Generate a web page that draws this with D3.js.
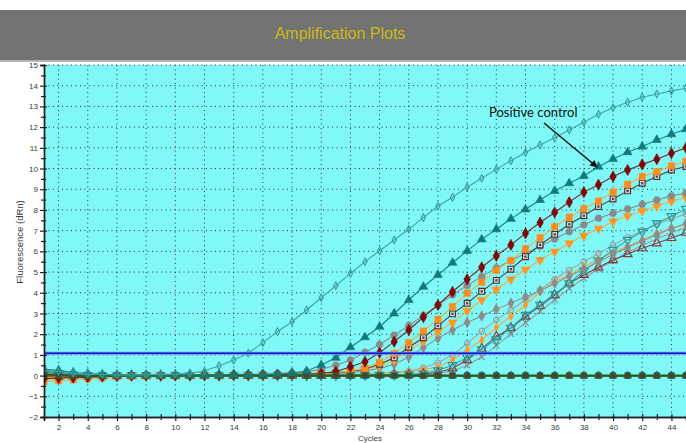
<!DOCTYPE html>
<html>
<head>
<meta charset="utf-8">
<script src="https://cdn.jsdelivr.net/npm/d3@7"></script>
<style>
  body { margin: 0; background: #ffffff; }
  svg { display: block; }
</style>
</head>
<body>
<div id="chart"></div>
<script>
// Chart values
const cycles = [1,2,3,4,5,6,7,8,9,10,11,12,13,14,15,16,17,18,19,20,21,22,23,24,25,26,27,28,29,30,31,32,33,34,35,36,37,38,39,40,41,42,43,44,45];
const yTicks = [-2,-1,0,1,2,3,4,5,6,7,8,9,10,11,12,13,14,15];
const xTicks = [2,4,6,8,10,12,14,16,18,20,22,24,26,28,30,32,34,36,38,40,42,44];
const threshold = 1.08;

const earlyTeal = [0.25,0.2,0.12,0.08,0.05,0.03,0.03,0.04,0.06,0.08,0.12,0.22,0.48,0.75,1.08,1.59,2.12,2.6,3.17,3.76,4.34,4.94,5.5,6.03,6.55,7.07,7.63,8.19,8.61,9.1,9.53,9.96,10.38,10.77,11.14,11.49,11.86,12.23,12.62,12.94,13.2,13.44,13.6,13.75,13.88];
const positiveControl = [0.3,0.25,0.15,0.1,0.06,0.04,0.03,0.03,0.03,0.03,0.03,0.03,0.03,0.04,0.04,0.05,0.07,0.12,0.22,0.51,0.86,1.37,1.85,2.36,3.0,3.65,4.29,4.86,5.45,6.02,6.58,7.07,7.57,8.03,8.48,8.92,9.29,9.64,10.09,10.46,10.79,11.06,11.38,11.66,11.9];
const redDiamonds = [-0.15,-0.12,-0.1,-0.08,-0.05,-0.03,0,0,0,0.01,0.01,0.02,0.02,0.03,0.03,0.04,0.05,0.07,0.08,0.1,0.19,0.43,0.67,1.11,1.64,2.2,2.82,3.41,4.05,4.65,5.23,5.78,6.31,6.87,7.39,7.88,8.38,8.86,9.22,9.61,9.93,10.2,10.45,10.74,11.0];
const orangeSquares = [-0.3,-0.25,-0.2,-0.15,-0.1,-0.06,-0.04,-0.03,-0.02,-0.02,-0.01,-0.01,0,0,0,0.01,0.02,0.03,0.05,0.08,0.15,0.22,0.35,0.64,1.08,1.59,2.15,2.72,3.33,3.98,4.51,5.08,5.56,6.12,6.66,7.19,7.65,8.05,8.43,8.86,9.24,9.61,9.85,10.13,10.35];
const openSquares = [0.05,0.03,0,-0.02,-0.02,-0.02,0,0,0,0,0,0,0.01,0.01,0.02,0.02,0.03,0.04,0.06,0.09,0.13,0.2,0.32,0.55,0.86,1.37,1.83,2.4,2.98,3.49,4.07,4.6,5.14,5.74,6.31,6.82,7.31,7.72,8.16,8.53,8.92,9.29,9.61,9.93,10.1];
const grayCircles = [0.1,0.08,0.05,0.03,0.02,0.02,0.02,0.02,0.02,0.02,0.03,0.03,0.04,0.05,0.06,0.08,0.1,0.13,0.18,0.3,0.5,0.75,1.13,1.5,1.95,2.42,2.9,3.4,3.9,4.35,4.78,5.2,5.55,5.9,6.25,6.6,6.95,7.28,7.6,7.84,8.05,8.27,8.48,8.68,8.82];
const orangeTriangles = [-0.2,-0.15,-0.12,-0.08,-0.05,-0.03,-0.02,-0.02,-0.01,-0.01,0,0,0,0,0.01,0.01,0.02,0.03,0.05,0.08,0.12,0.2,0.3,0.45,0.75,1.2,1.65,2.12,2.56,3.12,3.65,4.15,4.65,5.12,5.58,5.98,6.39,6.76,7.1,7.44,7.71,7.95,8.18,8.42,8.6];
const grayDiamonds = [0,-0.02,-0.03,-0.03,-0.02,-0.02,-0.01,-0.01,0,0,0,0,0,0,0.01,0.01,0.02,0.03,0.04,0.06,0.1,0.15,0.22,0.35,0.55,0.9,1.35,1.8,2.2,2.56,2.88,3.2,3.5,3.81,4.1,4.45,4.8,5.15,5.5,5.85,6.2,6.5,6.8,7.1,7.35];
const tealOpenTriangles = [0.15,0.1,0.05,0.02,0,0,0,0,0,0,0,0,0,0,0,0,0,0,0,0.01,0.01,0.01,0.02,0.03,0.04,0.06,0.1,0.25,0.51,0.88,1.27,1.75,2.31,2.93,3.41,3.94,4.46,5.07,5.55,6.07,6.55,6.95,7.36,7.7,8.05];
const brownTriangles = [-0.05,-0.05,-0.04,-0.03,-0.02,-0.01,0,0,0,0,0,0,0,0,0,0,0,0,0,0,0.01,0.01,0.02,0.03,0.04,0.05,0.08,0.15,0.35,0.75,1.3,1.88,2.3,2.85,3.36,3.89,4.46,4.86,5.23,5.58,5.87,6.15,6.39,6.65,6.9];
const orangeSmall = [-0.1,-0.08,-0.05,-0.03,-0.02,-0.01,0,0,0,0,0,0,0,0,0,0,0,0.01,0.01,0.02,0.03,0.04,0.06,0.09,0.13,0.18,0.28,0.42,0.75,1.24,1.72,2.33,2.85,3.41,4.05,4.54,4.86,5.26,5.62,5.95,6.25,6.55,6.87,7.11,7.3];
const grayOpenCircles = [0.1,0.06,0.04,0.02,0.01,0,0,0,0,0,0,0,0,0,0,0,0,0.01,0.01,0.02,0.03,0.05,0.07,0.1,0.15,0.22,0.38,0.62,1.0,1.55,2.15,2.69,3.17,3.65,4.15,4.65,5.1,5.5,5.9,6.3,6.68,7.0,7.3,7.58,7.8];
const grayCrosses = [0.05,0.03,0.02,0.01,0,0,0,0,0,0,0,0,0,0,0,0,0,0,0,0,0,0,0.01,0.01,0.02,0.03,0.05,0.1,0.22,0.5,0.9,1.45,2.0,2.55,3.1,3.65,4.2,4.7,5.15,5.55,5.95,6.3,6.6,6.9,7.15];
const negativeA = [0.05,0.02,0,-0.01,-0.01,0,0,0,0,0,0,0,0,0,0,0,0,0,0,0,0,0,0,0,0,0,0,0,0,0,0,0,0,0,0,0,0,0,0,0,0,0,0,0,0];
const negativeB = [-0.1,-0.08,-0.05,-0.03,-0.02,-0.01,0,0,0,0,0,0,0,0,0,0,0,0,0,0,0,0,0,0,0,0,0,0,0,0,0,0,0,0,0,0,0,0,0,0,0,0,0,0,0];
const negativeC = [0.2,0.15,0.1,0.05,0.02,0.01,0,0,0,0,0,0,0,0,0,0,0,0,0,0,0,0,0,0,0,0,0,0,0,0,0,0,0,0,0,0,0,0,0,0,0,0,0,0,0];

// Series styling (drawing order = list order)
const seriesList = [
    { values: negativeC, line: "#6b3a2a", fill: "#7a4a3a", stroke: "#5a3020", shape: "hex", size: 30 },
    { values: negativeB, line: "#8a5a2a", fill: "#8a6a4a", stroke: "#6a4a2a", shape: "triangle", size: 28 },
    { values: grayCrosses, line: "#9a9a9a", fill: "none", stroke: "#8a8a8a", shape: "x", size: 26 },
    { values: grayOpenCircles, line: "#a4a4a4", fill: "none", stroke: "#9a9a9a", shape: "circle", size: 24 },
    { values: orangeSmall, line: "#f4a640", fill: "#ff9a2a", stroke: "#ff9a2a", shape: "diamond", size: 20 },
    { values: brownTriangles, line: "#7a4545", fill: "none", stroke: "#8a3a3a", shape: "triangle", size: 34 },
    { values: tealOpenTriangles, line: "#3aa2a2", fill: "none", stroke: "#2a9898", shape: "triangleDown", size: 34 },
    { values: grayDiamonds, line: "#909090", fill: "#8c8c8c", stroke: "#8c8c8c", shape: "diamond", size: 32 },
    { values: orangeTriangles, line: "#eeb050", fill: "#ff9620", stroke: "#ff9620", shape: "triangleDown", size: 34 },
    { values: grayCircles, line: "#8e8e8e", fill: "#8a8a8a", stroke: "#8a8a8a", shape: "hex", size: 36 },
    { values: openSquares, line: "#4e3c3c", fill: "#cfcfcf", stroke: "#4a3232", shape: "squareOpen", size: 34 },
    { values: orangeSquares, line: "#f0b048", fill: "#ff8c1a", stroke: "#ff8c1a", shape: "square", size: 40 },
    { values: redDiamonds, line: "#6e2a2a", fill: "#7b0a0a", stroke: "#7b0a0a", shape: "diamond", size: 36 },
    { values: negativeA, line: "#1e5e1e", fill: "#3e463e", stroke: "#2a7a2a", shape: "square", size: 34, width: 2.2 },
    { values: positiveControl, line: "#1a8484", fill: "#137a7a", stroke: "#137a7a", shape: "triangle", size: 34 },
    { values: earlyTeal, line: "#3ea6a6", fill: "none", stroke: "#3a9c9c", shape: "diamond", size: 16 }
];

const width = 686;
const height = 443;
const plot = { left: 44, right: 686, top: 65, bottom: 417 };

const svg = d3.select("#chart").append("svg")
    .attr("width", width)
    .attr("height", height)
    .style("font-family", "'Liberation Sans', Arial, sans-serif");

// Title bar
svg.append("rect")
    .attr("x", 0).attr("y", 10)
    .attr("width", width).attr("height", 50)
    .attr("fill", "#737373");
svg.append("rect")
    .attr("x", 0).attr("y", 60)
    .attr("width", width).attr("height", 2)
    .attr("fill", "#b4b4b4");
svg.append("text")
    .attr("x", 340).attr("y", 39)
    .attr("text-anchor", "middle")
    .attr("font-size", "16px")
    .attr("fill", "#cdb915")
    .text("Amplification Plots");

// Scales
const xScale = d3.scaleLinear().domain([1, 45]).range([plot.left, plot.right]);
const yScale = d3.scaleLinear().domain([-2, 15]).range([plot.bottom, plot.top]);

// Plot background
svg.append("rect")
    .attr("x", plot.left).attr("y", plot.top)
    .attr("width", plot.right - plot.left).attr("height", plot.bottom - plot.top)
    .attr("fill", "#80f8f8");

svg.append("clipPath").attr("id", "plotClip")
    .append("rect")
    .attr("x", plot.left).attr("y", plot.top - 4)
    .attr("width", plot.right - plot.left).attr("height", plot.bottom - plot.top + 4);

// Dotted grid
const grid = svg.append("g");
grid.selectAll("line.h")
    .data(yTicks.filter(d => d > -2))
    .enter().append("line")
    .attr("x1", plot.left).attr("x2", plot.right)
    .attr("y1", d => yScale(d)).attr("y2", d => yScale(d))
    .attr("stroke", "#303030")
    .attr("stroke-width", 1)
    .attr("stroke-dasharray", "1,3.5");
grid.selectAll("line.v")
    .data(xTicks)
    .enter().append("line")
    .attr("x1", d => xScale(d)).attr("x2", d => xScale(d))
    .attr("y1", plot.top).attr("y2", plot.bottom)
    .attr("stroke", "#303030")
    .attr("stroke-width", 1)
    .attr("stroke-dasharray", "1,3.5");

// Series lines and markers
const lineGen = d3.line()
    .x((d, i) => xScale(cycles[i]))
    .y(d => yScale(d));

function markerPath(shape, size) {
    if (shape === "triangle" || shape === "triangleDown") return d3.symbol(d3.symbolTriangle, size)();
    if (shape === "diamond") return d3.symbol(d3.symbolDiamond, size)();
    if (shape === "square" || shape === "squareOpen") return d3.symbol(d3.symbolSquare, size)();
    if (shape === "circle") return d3.symbol(d3.symbolCircle, size)();
    if (shape === "x") return d3.symbol(d3.symbolX, size)();
    // hexagon
    const r = Math.sqrt(size / 2.6);
    const pts = d3.range(6).map(k => [r * Math.cos(Math.PI / 3 * k), r * Math.sin(Math.PI / 3 * k)]);
    return "M" + pts.map(p => p.join(",")).join("L") + "Z";
}

const seriesGroup = svg.append("g").attr("clip-path", "url(#plotClip)");

seriesList.forEach(s => {
    const g = seriesGroup.append("g");
    g.append("path")
        .attr("d", lineGen(s.values))
        .attr("fill", "none")
        .attr("stroke", s.line)
        .attr("stroke-width", s.width || 1.1);

    const path = markerPath(s.shape, s.size);
    g.selectAll("path.m")
        .data(s.values)
        .enter().append("path")
        .attr("class", "m")
        .attr("d", path)
        .attr("transform", (d, i) => `translate(${xScale(cycles[i])},${yScale(d)})` + (s.shape === "triangleDown" ? " rotate(180)" : ""))
        .attr("fill", s.fill)
        .attr("stroke", s.stroke)
        .attr("stroke-width", s.fill === "none" || s.shape === "squareOpen" ? 1.1 : 0.6);

    if (s.shape === "squareOpen") {
        g.selectAll("rect.dot")
            .data(s.values)
            .enter().append("rect")
            .attr("x", (d, i) => xScale(cycles[i]) - 1.1)
            .attr("y", d => yScale(d) - 1.1)
            .attr("width", 2.2).attr("height", 2.2)
            .attr("fill", "#5a4040");
    }
});

// Threshold line
svg.append("line")
    .attr("x1", plot.left).attr("x2", plot.right)
    .attr("y1", yScale(threshold)).attr("y2", yScale(threshold))
    .attr("stroke", "#6a8cff")
    .attr("stroke-width", 3.2);
svg.append("line")
    .attr("x1", plot.left).attr("x2", plot.right)
    .attr("y1", yScale(threshold)).attr("y2", yScale(threshold))
    .attr("stroke", "#1818c8")
    .attr("stroke-width", 1.6);

// Axes
const yAxis = d3.axisLeft(yScale)
    .tickValues(yTicks)
    .tickSize(4)
    .tickPadding(2)
    .tickFormat(d3.format("d"));
const yAxisG = svg.append("g")
    .attr("transform", `translate(${plot.left},0)`)
    .call(yAxis);

const yMinor = d3.axisLeft(yScale)
    .tickValues(yTicks.slice(0, -1).map(d => d + 0.5))
    .tickSize(3)
    .tickFormat("");
const yMinorG = svg.append("g")
    .attr("transform", `translate(${plot.left},0)`)
    .call(yMinor);

const xAxis = d3.axisBottom(xScale)
    .tickValues(xTicks)
    .tickSize(4)
    .tickPadding(3)
    .tickFormat(d3.format("d"));
const xAxisG = svg.append("g")
    .attr("transform", `translate(0,${plot.bottom})`)
    .call(xAxis);

const xMinor = d3.axisBottom(xScale)
    .tickValues(cycles.filter(d => d % 2 === 1))
    .tickSize(3)
    .tickFormat("");
const xMinorG = svg.append("g")
    .attr("transform", `translate(0,${plot.bottom})`)
    .call(xMinor);

[yAxisG, yMinorG, xAxisG, xMinorG].forEach(g => {
    g.select(".domain").attr("stroke", "#202020").attr("stroke-width", 1.4);
    g.selectAll(".tick line").attr("stroke", "#202020").attr("stroke-width", 1.2);
    g.selectAll("text")
        .attr("font-size", "8px")
        .attr("font-family", "'Liberation Sans', Arial, sans-serif")
        .attr("fill", "#3a3a3a");
});
// ticks cross the axis line
yAxisG.selectAll(".tick line").attr("x2", -4).attr("x1", 3);
yMinorG.selectAll(".tick line").attr("x2", -3).attr("x1", 2);
xAxisG.selectAll(".tick line").attr("y1", -3).attr("y2", 4);
xMinorG.selectAll(".tick line").attr("y1", -3).attr("y2", 3);

// Axis titles
svg.append("text")
    .attr("transform", "translate(23,242) rotate(-90)")
    .attr("text-anchor", "middle")
    .attr("font-size", "9.5px")
    .attr("fill", "#3a3a3a")
    .text("Fluorescence (dRn)");
svg.append("text")
    .attr("x", 370).attr("y", 441)
    .attr("text-anchor", "middle")
    .attr("font-size", "8px")
    .attr("fill", "#3a3a3a")
    .text("Cycles");

// Positive control annotation
svg.append("defs").append("marker")
    .attr("id", "arrowHead")
    .attr("viewBox", "0 0 10 10")
    .attr("refX", 9).attr("refY", 5)
    .attr("markerWidth", 5).attr("markerHeight", 5)
    .attr("orient", "auto")
    .append("path")
    .attr("d", "M0,0L10,5L0,10Z")
    .attr("fill", "#111");
svg.append("text")
    .attr("x", 489).attr("y", 117)
    .attr("font-size", "13px")
    .attr("font-family", "Lato, 'Open Sans', sans-serif")
    .attr("fill", "#111")
    .text("Positive control");
svg.append("line")
    .attr("x1", 544).attr("y1", 123)
    .attr("x2", 597).attr("y2", 167)
    .attr("stroke", "#111")
    .attr("stroke-width", 1.5)
    .attr("marker-end", "url(#arrowHead)");
</script>
</body>
</html>
